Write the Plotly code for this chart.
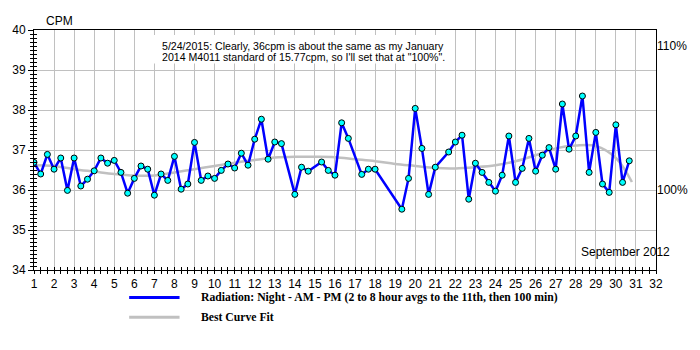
import plotly.graph_objects as go

# Readings: day of month (three readings per day: Night, AM, PM)
days = [1, 1.333, 1.667, 2, 2.333, 2.667, 3, 3.333, 3.667, 4, 4.333, 4.667,
        5, 5.333, 5.667, 6, 6.333, 6.667, 7, 7.333, 7.667, 8, 8.333, 8.667,
        9, 9.333, 9.667, 10, 10.333, 10.667, 11, 11.333, 11.667, 12, 12.333,
        12.667, 13, 13.333, 14, 14.333, 14.667, 15.333, 15.667, 16, 16.333,
        16.667, 17.333, 17.667, 18, 19.333, 19.667, 20, 20.333, 20.667, 21,
        21.667, 22, 22.333, 22.667, 23, 23.333, 23.667, 24, 24.333, 24.667,
        25, 25.333, 25.667, 26, 26.333, 26.667, 27, 27.333, 27.667, 28,
        28.333, 28.667, 29, 29.333, 29.667, 30, 30.333, 30.667]

cpm = [36.69, 36.40, 36.89, 36.52, 36.80, 35.99, 36.80, 36.10, 36.27, 36.48,
       36.80, 36.67, 36.74, 36.44, 35.92, 36.29, 36.60, 36.52, 35.87, 36.40,
       36.24, 36.84, 36.02, 36.15, 37.19, 36.24, 36.35, 36.29, 36.49, 36.65,
       36.55, 36.92, 36.62, 37.27, 37.77, 36.77, 37.20, 37.16, 35.89, 36.57,
       36.47, 36.70, 36.49, 36.37, 37.68, 37.29, 36.39, 36.52, 36.52, 35.52,
       36.29, 38.04, 37.04, 35.89, 36.57, 36.95, 37.20, 37.37, 35.77, 36.67,
       36.44, 36.19, 35.97, 36.37, 37.35, 36.19, 36.54, 37.29, 36.47, 36.87,
       37.06, 36.52, 38.15, 37.02, 37.35, 38.35, 36.44, 37.44, 36.15, 35.94,
       37.63, 36.19, 36.73]

# Best curve fit
fit_days = [1, 2, 3, 4, 5, 6, 7, 8, 9, 10, 11, 12, 13, 14, 15, 16, 17, 18,
            19, 20, 21, 22, 23, 24, 25, 26, 27, 28, 29, 30, 30.8]
fit_cpm = [36.62, 36.60, 36.52, 36.46, 36.40, 36.36, 36.36, 36.44, 36.52,
           36.60, 36.68, 36.75, 36.81, 36.83, 36.83, 36.82, 36.77, 36.72,
           36.65, 36.60, 36.55, 36.54, 36.57, 36.62, 36.72, 36.87, 37.04,
           37.11, 37.10, 36.80, 36.20]

# Right-hand percentage scale (36 cpm = 100%)
pct_vals = [36, 39.6]
pct_text = ["100%", "110%"]

x_range = [1, 32]
y_range = [34, 40]

FONT = "Arial, Liberation Sans, sans-serif"
SERIF = "Times New Roman, Liberation Serif, serif"

fig = go.Figure()

fig.add_trace(go.Scatter(
    x=fit_days, y=fit_cpm, mode="lines",
    line=dict(color="#c0c0c0", width=2.5, shape="spline", smoothing=1.0),
    hoverinfo="skip", showlegend=False))

fig.add_trace(go.Scatter(
    x=days, y=cpm, mode="lines+markers",
    line=dict(color="#0000ff", width=2.5),
    marker=dict(size=6, color="#00ffff", line=dict(color="black", width=1)),
    showlegend=False))

# carriers for the right-hand scale and the inner tick marks
fig.add_trace(go.Scatter(x=[None], y=[None], yaxis="y2", showlegend=False))
fig.add_trace(go.Scatter(x=[None], y=[None], xaxis="x2", yaxis="y3",
                         showlegend=False))

tick_font = dict(family=FONT, size=12, color="black")

fig.update_layout(
    width=700, height=350,
    margin=dict(l=30, r=30, t=30, b=80),
    paper_bgcolor="white", plot_bgcolor="white",
    xaxis=dict(range=x_range, tick0=1, dtick=1, ticks="outside", ticklen=3,
               tickcolor="black", showgrid=True, gridcolor="#c0c0c0",
               gridwidth=1, showline=True, linecolor="black", linewidth=1,
               mirror=True, zeroline=False, tickfont=tick_font,
               minor=dict(dtick=1 / 3, tick0=1, ticks="outside", ticklen=3,
                          tickcolor="black", showgrid=False)),
    yaxis=dict(range=y_range, dtick=1, ticks="outside", ticklen=5,
               tickcolor="black", showgrid=True, gridcolor="#c0c0c0",
               gridwidth=1, showline=True, linecolor="black", linewidth=1,
               mirror=True, zeroline=False, tickfont=tick_font,
               minor=dict(dtick=0.1, ticks="outside", ticklen=3,
                          tickcolor="black", showgrid=False)),
    yaxis2=dict(range=y_range, overlaying="y", side="right",
                tickvals=pct_vals, ticktext=pct_text, ticks="",
                showgrid=False, showline=False, zeroline=False,
                tickfont=tick_font),
    xaxis2=dict(range=x_range, overlaying="x", anchor="y3", tick0=1, dtick=1,
                ticks="inside", ticklen=3, tickcolor="black",
                showticklabels=False, showgrid=False, showline=False,
                zeroline=False,
                minor=dict(dtick=1 / 3, tick0=1, ticks="inside", ticklen=3,
                           tickcolor="black", showgrid=False)),
    yaxis3=dict(range=y_range, overlaying="y", anchor="x2", side="left",
                dtick=1, ticks="inside", ticklen=3, tickcolor="black",
                showticklabels=False, showgrid=False, showline=False,
                zeroline=False,
                minor=dict(dtick=0.1, ticks="inside", ticklen=3,
                           tickcolor="black", showgrid=False)),
)

# note box
fig.add_shape(type="rect", xref="paper", yref="paper",
              x0=0.192, x1=0.674, y0=0.860, y1=0.979,
              fillcolor="white", line=dict(width=0), layer="above")

note_lines = [
    "5/24/2015: Clearly, 36cpm is about the same as my January",
    "2014 M4011 standard of 15.77cpm, so I'll set that at \"100%\".",
]
for text, yp in zip(note_lines, [0.935, 0.887]):
    fig.add_annotation(text=text, xref="paper", yref="paper", x=0.203, y=yp,
                       xanchor="left", yanchor="middle", showarrow=False,
                       font=dict(family=FONT, size=10.6, color="black"))

fig.add_annotation(text="CPM", xref="paper", yref="paper", x=0.016, y=1.0,
                   xanchor="left", yanchor="bottom", showarrow=False,
                   font=tick_font)

fig.add_annotation(text="September 2012", xref="paper", yref="paper",
                   x=0.876, y=0.076, xanchor="left", yanchor="middle",
                   showarrow=False, font=tick_font)

# legend
legend_items = [
    ("#0000ff", "Radiation: Night - AM - PM (2 to 8 hour avgs to the 11th, then 100 min)", -0.1146),
    ("#c0c0c0", "Best Curve Fit", -0.197),
]
for color, label, yp in legend_items:
    fig.add_shape(type="line", xref="paper", yref="paper",
                  x0=0.153, x1=0.234, y0=yp, y1=yp,
                  line=dict(color=color, width=3))
    fig.add_annotation(text="<b>" + label + "</b>", xref="paper", yref="paper",
                       x=0.2656, y=yp, xanchor="left", yanchor="middle",
                       showarrow=False,
                       font=dict(family=SERIF, size=11.7, color="black"))

fig.write_html("out.html")
